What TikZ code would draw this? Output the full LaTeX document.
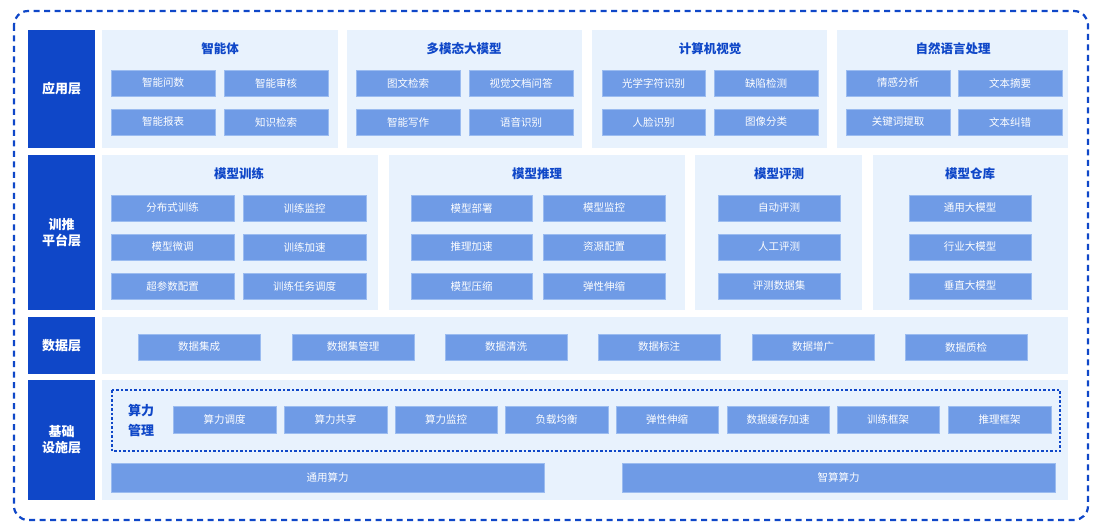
\documentclass[tikz,border=0pt]{standalone}
\usepackage{fontspec}
\setmainfont{Noto Sans CJK SC}
\begin{document}
\begin{tikzpicture}[x=1pt,y=-1pt,
  lab/.style={fill=c1,draw=none,text=white,font=\fontsize{13}{16}\selectfont\bfseries,align=center,inner sep=0pt},
  pan/.style={fill=cp,draw=none,inner sep=0pt},
  itm/.style={fill=ci,draw=cib,line width=0.8pt,text=white,font=\fontsize{10.5}{12}\selectfont,inner sep=0pt},
  ttl/.style={text=c1,font=\fontsize{12.5}{14}\selectfont\bfseries,inner sep=0pt}]
\definecolor{c1}{HTML}{0F47C8}
\definecolor{cp}{HTML}{E8F2FD}
\definecolor{ci}{HTML}{6F9BE6}
\definecolor{cib}{HTML}{9BBCF0}
\newcommand\bx[7]{\node[#1,minimum width={#4-#3},minimum height={#6-#5}] (#2) at ({(#3+#4)/2},{(#5+#6)/2}) {#7};}
\useasboundingbox (0,0) rectangle (1100,529);
\draw[c1,line width=2.2pt,dash pattern=on 6pt off 4.5pt,rounded corners=14pt] (14,11) rectangle (1088,520);
% left labels
\bx{lab}{L1}{28}{95}{30}{148}{应用层}
\bx{lab}{L2}{28}{95}{155}{310}{训推\\平台层}
\bx{lab}{L3}{28}{95}{317}{374}{数据层}
\bx{lab}{L4}{28}{95}{380}{500}{基础\\设施层}
% row 1
\bx{pan}{P11}{102}{338}{30}{148}{}
\bx{pan}{P12}{347}{582}{30}{148}{}
\bx{pan}{P13}{592}{827}{30}{148}{}
\bx{pan}{P14}{837}{1068}{30}{148}{}
\node[ttl] (T11) at (220,49) {智能体};
\node[ttl] (T12) at (464,49) {多模态大模型};
\node[ttl] (T13) at (710,49) {计算机视觉};
\node[ttl] (T14) at (953,49) {自然语言处理};
\bx{itm}{a1}{111}{215}{70}{96}{智能问数}
\bx{itm}{a2}{224}{328}{70}{96}{智能审核}
\bx{itm}{a3}{111}{215}{109}{135}{智能报表}
\bx{itm}{a4}{224}{328}{109}{135}{知识检索}
\bx{itm}{b1}{356}{460}{70}{96}{图文检索}
\bx{itm}{b2}{469}{573}{70}{96}{视觉文档问答}
\bx{itm}{b3}{356}{460}{109}{135}{智能写作}
\bx{itm}{b4}{469}{573}{109}{135}{语音识别}
\bx{itm}{c1n}{602}{705}{70}{96}{光学字符识别}
\bx{itm}{c2n}{714}{818}{70}{96}{缺陷检测}
\bx{itm}{c3n}{602}{705}{109}{135}{人脸识别}
\bx{itm}{c4n}{714}{818}{109}{135}{图像分类}
\bx{itm}{d1}{846}{950}{70}{96}{情感分析}
\bx{itm}{d2}{958}{1062}{70}{96}{文本摘要}
\bx{itm}{d3}{846}{950}{109}{135}{关键词提取}
\bx{itm}{d4}{958}{1062}{109}{135}{文本纠错}
% row 2
\bx{pan}{P21}{102}{378}{155}{310}{}
\bx{pan}{P22}{389}{685}{155}{310}{}
\bx{pan}{P23}{695}{862}{155}{310}{}
\bx{pan}{P24}{873}{1068}{155}{310}{}
\node[ttl] (T21) at (239,174) {模型训练};
\node[ttl] (T22) at (537,174) {模型推理};
\node[ttl] (T23) at (779,174) {模型评测};
\node[ttl] (T24) at (970,174) {模型仓库};
\bx{itm}{e1}{111}{234}{195}{221}{分布式训练}
\bx{itm}{e2}{243}{366}{195}{221}{训练监控}
\bx{itm}{e3}{111}{234}{234}{260}{模型微调}
\bx{itm}{e4}{243}{366}{234}{260}{训练加速}
\bx{itm}{e5}{111}{234}{273}{299}{超参数配置}
\bx{itm}{e6}{243}{366}{273}{299}{训练任务调度}
\bx{itm}{f1}{411}{532}{195}{221}{模型部署}
\bx{itm}{f2}{543}{665}{195}{221}{模型监控}
\bx{itm}{f3}{411}{532}{234}{260}{推理加速}
\bx{itm}{f4}{543}{665}{234}{260}{资源配置}
\bx{itm}{f5}{411}{532}{273}{299}{模型压缩}
\bx{itm}{f6}{543}{665}{273}{299}{弹性伸缩}
\bx{itm}{g1}{718}{840}{195}{221}{自动评测}
\bx{itm}{g2}{718}{840}{234}{260}{人工评测}
\bx{itm}{g3}{718}{840}{273}{299}{评测数据集}
\bx{itm}{h1}{909}{1031}{195}{221}{通用大模型}
\bx{itm}{h2}{909}{1031}{234}{260}{行业大模型}
\bx{itm}{h3}{909}{1031}{273}{299}{垂直大模型}
% row 3
\bx{pan}{P3}{102}{1068}{317}{374}{}
\bx{itm}{k1}{138}{260}{334}{360}{数据集成}
\bx{itm}{k2}{292}{414}{334}{360}{数据集管理}
\bx{itm}{k3}{445}{567}{334}{360}{数据清洗}
\bx{itm}{k4}{598}{720}{334}{360}{数据标注}
\bx{itm}{k5}{752}{874}{334}{360}{数据增广}
\bx{itm}{k6}{905}{1027}{334}{360}{数据质检}
% row 4
\bx{pan}{P4}{102}{1068}{380}{500}{}
\draw[c1,line width=1.3pt,dash pattern=on 2.5pt off 2pt] (112,390) rectangle (1060,451);
\node[ttl,align=center,font=\fontsize{13}{20}\selectfont\bfseries] (SL) at (141,421) {算力\\管理};
\bx{itm}{m1}{173}{276}{406}{433}{算力调度}
\bx{itm}{m2}{284}{387}{406}{433}{算力共享}
\bx{itm}{m3}{395}{497}{406}{433}{算力监控}
\bx{itm}{m4}{505}{608}{406}{433}{负载均衡}
\bx{itm}{m5}{616}{718}{406}{433}{弹性伸缩}
\bx{itm}{m6}{727}{829}{406}{433}{数据缓存加速}
\bx{itm}{m7}{837}{939}{406}{433}{训练框架}
\bx{itm}{m8}{948}{1051}{406}{433}{推理框架}
\bx{itm}{n1}{111}{544}{463}{492}{通用算力}
\bx{itm}{n2}{622}{1055}{463}{492}{智算算力}
\end{tikzpicture}
\end{document}
